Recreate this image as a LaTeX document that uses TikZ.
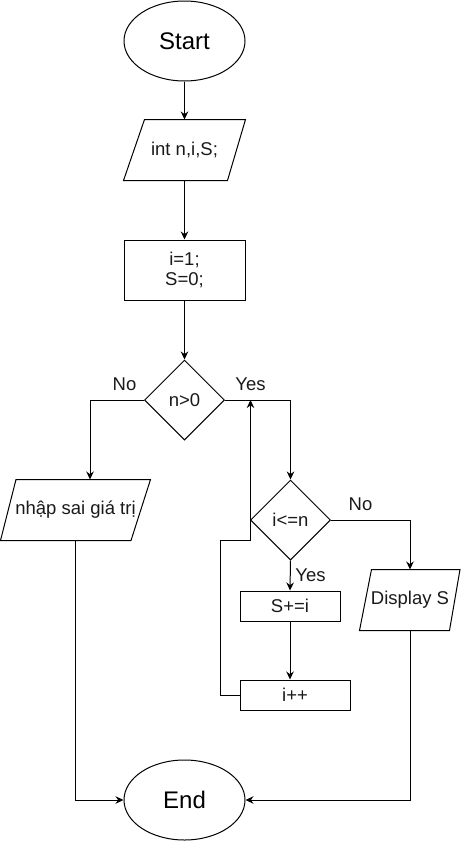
\documentclass[tikz,border=0pt]{standalone}
\usepackage{fontspec}
\setmainfont{Liberation Sans}
\usetikzlibrary{shapes.geometric,arrows.meta}
\begin{document}
\begin{tikzpicture}[x=1pt,y=-1pt,
  line width=1pt,
  txt/.style={font=\fontsize{18.5}{20}\selectfont, text=black!90},
  term/.style={draw, ellipse, minimum width=121pt, minimum height=80pt, inner sep=0pt, font=\fontsize{24}{28}\selectfont},
  proc/.style={draw, rectangle, inner sep=0pt, txt, align=center},
  io/.style={rectangle, inner sep=0pt, txt},
  dec/.style={draw, diamond, aspect=1, minimum width=80pt, minimum height=80pt, inner sep=0pt, txt},
  conn/.style={-{Stealth[length=8pt,width=7.5pt]}},
  lbl/.style={txt}
]
\useasboundingbox (0,0) rectangle (461,841);

\node[term] (start) at (184.5,41) {Start};
\node[io, minimum width=121pt, minimum height=60pt] (inp) at (184.5,150) {int n,i,S;};
\draw ([xshift=0pt]inp.south west) -- ([xshift=21pt]inp.north west) -- (inp.north east) -- ([xshift=-18pt]inp.south east) -- cycle;
\node[proc, minimum width=121pt, minimum height=60pt] (init) at (184.5,270) {i=1;\\S=0;};
\node[dec] (d1) at (184.5,400) {n>0};
\node[io, minimum width=150pt, minimum height=60pt] (nh) at (75.5,510) {nhập sai giá trị};
\draw ([xshift=0.5pt]nh.south west) -- ([xshift=16pt]nh.north west) -- ([xshift=-0.5pt]nh.north east) -- ([xshift=-20pt]nh.south east) -- cycle;
\node[dec] (d2) at (290.5,520) {i<=n};
\node[io, minimum width=100pt, minimum height=60pt] (disp) at (410,600) {Display S};
\draw (disp.south west) -- ([xshift=12pt]disp.north west) -- ([xshift=-0.5pt]disp.north east) -- ([xshift=-11pt]disp.south east) -- cycle;
\node[proc, minimum width=100pt, minimum height=30pt] (s1) at (290,606) {S+=i};
\node[proc, minimum width=110pt, minimum height=30pt] (inc) at (295,695) {i++};
\node[term] (end) at (184.5,800) {End};

\coordinate (nhin) at ([xshift=14.5pt]nh.north);
\coordinate (lp1) at (220.5,695);
\coordinate (lp2) at (220.5,540.5);
\coordinate (lp3) at (250.5,540.5);
\coordinate (lp4) at (250.5,400);

\draw[conn] (start) -- (inp);
\draw[conn] (inp) -- (init);
\draw[conn] (init) -- (d1);
\draw[conn] (d1.west) -| (nhin);
\draw[conn] (d1.east) -| (d2.north);
\draw[conn] (d2.east) -| (disp.north);
\draw[conn] (d2.south) -- (s1.north);
\draw[conn] (s1.south) -- (s1.south |- inc.north);
\draw[conn] (inc.west) -- (lp1) -- (lp2) -- (lp3) -- (lp4);
\draw[conn] (nh.south) |- (end.west);
\draw[conn] (disp.south) |- (end.east);

\node[lbl] (lno1) at (124.5,384) {No};
\node[lbl] (lyes1) at (250.5,384) {Yes};
\node[lbl] (lno2) at (360.5,504) {No};
\node[lbl] (lyes2) at (310.5,575) {Yes};
\end{tikzpicture}
\end{document}
